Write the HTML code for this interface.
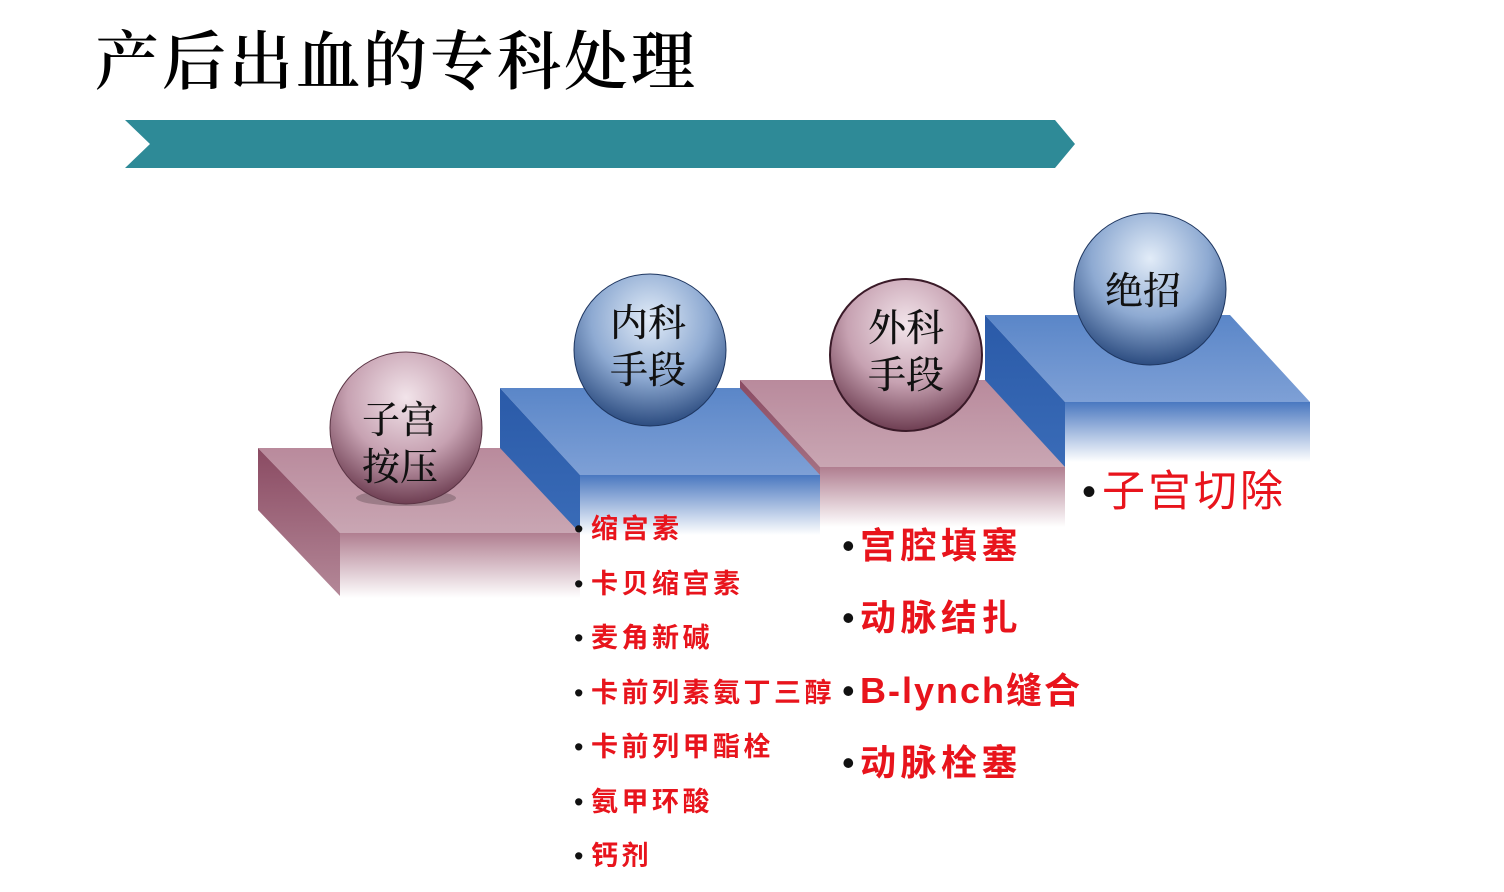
<!DOCTYPE html>
<html><head><meta charset="utf-8"><style>
html,body{margin:0;padding:0;background:#fff;}
svg{display:block;}
.t1{font-family:"Liberation Sans","Noto Sans CJK SC",sans-serif;font-weight:bold;fill:#e8141c;}
.b{font-family:"Liberation Sans","Noto Sans CJK SC",sans-serif;fill:#111;}
.sp{font-family:"Liberation Serif","Noto Serif CJK SC",serif;fill:#111;font-size:38px;font-weight:500;}
</style></head><body>
<svg width="1504" height="892" viewBox="0 0 1504 892" xmlns="http://www.w3.org/2000/svg">
<defs>
<linearGradient id="fp" x1="0" y1="0" x2="0" y2="1"><stop offset="0" stop-color="#b07e90"/><stop offset="1" stop-color="#fff" stop-opacity="1"/></linearGradient>
<linearGradient id="fb" x1="0" y1="0" x2="0" y2="1"><stop offset="0" stop-color="#4a78c0"/><stop offset="1" stop-color="#fff"/></linearGradient>
<linearGradient id="tp" x1="0" y1="0" x2="0" y2="1"><stop offset="0" stop-color="#b98a9c"/><stop offset="1" stop-color="#c9a6b3"/></linearGradient>
<linearGradient id="tb" x1="0" y1="0" x2="0" y2="1"><stop offset="0" stop-color="#5a86c8"/><stop offset="1" stop-color="#7ea0d6"/></linearGradient>
<linearGradient id="sp" x1="0" y1="0" x2="0" y2="1"><stop offset="0" stop-color="#8a4a62"/><stop offset="1" stop-color="#b48898"/></linearGradient>
<linearGradient id="sb" x1="0" y1="0" x2="0" y2="1"><stop offset="0" stop-color="#2a5aa8"/><stop offset="1" stop-color="#3a6cb8"/></linearGradient>
<radialGradient id="gp" cx="0.5" cy="0.3" r="0.7"><stop offset="0" stop-color="#f2e4ea"/><stop offset="0.55" stop-color="#c7a2b2"/><stop offset="1" stop-color="#6e3e52"/></radialGradient>
<radialGradient id="gb" cx="0.5" cy="0.3" r="0.7"><stop offset="0" stop-color="#e2ecf8"/><stop offset="0.55" stop-color="#8eaad2"/><stop offset="1" stop-color="#2c4c80"/></radialGradient>
</defs>
<text x="95" y="84" style="font-family:'Liberation Serif','Noto Serif CJK SC',serif;font-size:64px;font-weight:600;fill:#000;letter-spacing:3px;">产后出血的专科处理</text>
<polygon points="125,120 1055,120 1075,144 1055,168 125,168 150,144" fill="#2e8a97"/>

<polygon points="985,315 1230,315 1310,402 1065,402" fill="url(#tb)"/>
<polygon points="985,315 1065,402 1065,470 985,390" fill="url(#sb)"/>
<rect x="1065" y="402" width="245" height="60" fill="url(#fb)"/>
<polygon points="740,380 985,380 1065,467 820,467" fill="url(#tp)"/>
<polygon points="740,380 820,467 820,530 740,455" fill="url(#sp)"/>
<rect x="820" y="467" width="245" height="60" fill="url(#fp)"/>
<polygon points="500,388 740,388 820,475 580,475" fill="url(#tb)"/>
<polygon points="500,388 580,475 580,535 500,460" fill="url(#sb)"/>
<rect x="580" y="475" width="240" height="60" fill="url(#fb)"/>
<polygon points="258,448 500,448 580,533 340,533" fill="url(#tp)"/>
<polygon points="258,448 340,533 340,596 258,510" fill="url(#sp)"/>
<rect x="340" y="533" width="240" height="65" fill="url(#fp)"/>

<ellipse cx="406" cy="498" rx="50" ry="8" fill="#000" opacity="0.2"/>
<circle cx="406" cy="428" r="76" fill="url(#gp)" stroke="#5a3444" stroke-width="1"/>
<text class="sp" x="400" y="433" text-anchor="middle">子宫</text>
<text class="sp" x="400" y="480" text-anchor="middle">按压</text>
<circle cx="650" cy="350" r="76" fill="url(#gb)" stroke="#1e3660" stroke-width="1"/>
<text class="sp" x="648" y="336" text-anchor="middle">内科</text>
<text class="sp" x="648" y="383" text-anchor="middle">手段</text>
<circle cx="906" cy="355" r="76" fill="url(#gp)" stroke="#3a1a28" stroke-width="2"/>
<text class="sp" x="906" y="341" text-anchor="middle">外科</text>
<text class="sp" x="906" y="388" text-anchor="middle">手段</text>
<circle cx="1150" cy="289" r="76" fill="url(#gb)" stroke="#1e3660" stroke-width="1"/>
<text class="sp" x="1143" y="304" text-anchor="middle">绝招</text>

<g font-size="27" letter-spacing="3.5">
<text class="b" x="574" y="538">•</text><text class="t1" x="591" y="538">缩宫素</text>
<text class="b" x="574" y="593">•</text><text class="t1" x="591" y="593">卡贝缩宫素</text>
<text class="b" x="574" y="647">•</text><text class="t1" x="591" y="647">麦角新碱</text>
<text class="b" x="574" y="702">•</text><text class="t1" x="591" y="702">卡前列素氨丁三醇</text>
<text class="b" x="574" y="756">•</text><text class="t1" x="591" y="756">卡前列甲酯栓</text>
<text class="b" x="574" y="811">•</text><text class="t1" x="591" y="811">氨甲环酸</text>
<text class="b" x="574" y="865">•</text><text class="t1" x="591" y="865">钙剂</text>
</g>
<g font-size="36">
<text class="b" x="842" y="558">•</text><text class="t1" x="860" y="558" letter-spacing="4.5">宫腔填塞</text>
<text class="b" x="842" y="630">•</text><text class="t1" x="860" y="630" letter-spacing="4.5">动脉结扎</text>
<text class="b" x="842" y="703">•</text><text class="t1" x="860" y="703" letter-spacing="2">B-lynch缝合</text>
<text class="b" x="842" y="775">•</text><text class="t1" x="860" y="775" letter-spacing="4.5">动脉栓塞</text>
</g>
<text class="b" x="1082" y="505" font-size="40">•</text>
<text class="t1" x="1102" y="506" font-size="43" letter-spacing="3" style="font-weight:normal">子宫切除</text>
</svg>
</body></html>
